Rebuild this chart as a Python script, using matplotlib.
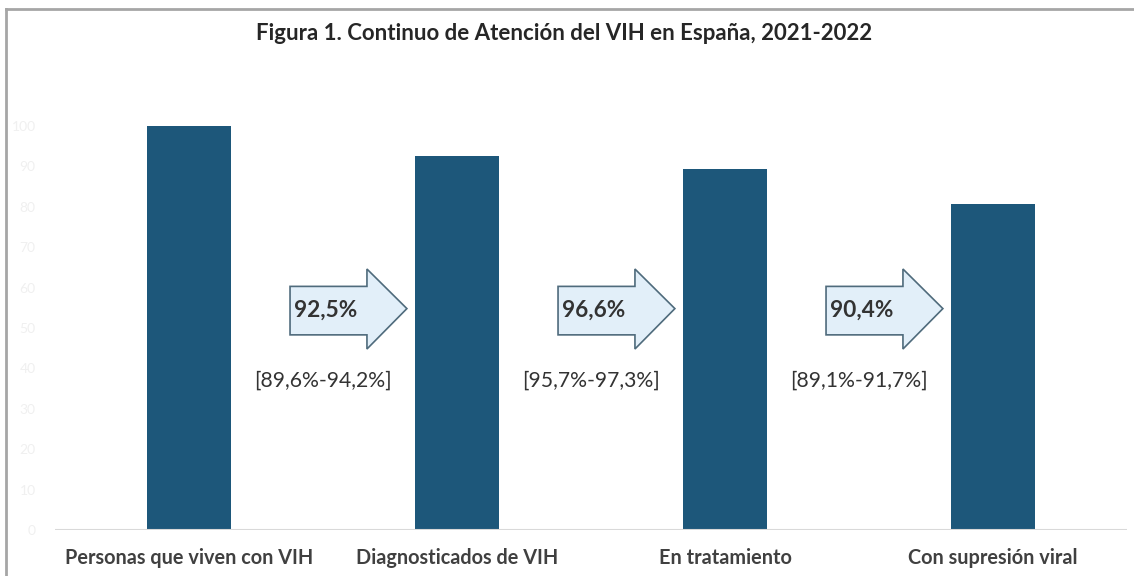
import matplotlib.pyplot as plt
import matplotlib.patches as mpatches
from matplotlib.lines import Line2D
import numpy as np

plt.rcParams['font.family'] = ['Lato', 'DejaVu Sans']

# data
categories = ['Personas que viven con VIH', 'Diagnosticados de VIH',
              'En tratamiento', 'Con supresión viral']
values = [100, 92.5, 89.4, 80.8]
step_pct = ['92,5%', '96,6%', '90,4%']
step_ci = ['[89,6%-94,2%]', '[95,7%-97,3%]', '[89,1%-91,7%]']
yticks = [0, 10, 20, 30, 40, 50, 60, 70, 80, 90, 100]

bar_color = '#1D577A'
text_color = '#404040'

fig = plt.figure(figsize=(11.34, 5.76), dpi=100)
ax = fig.add_axes([55 / 1134, 46 / 576, 1072 / 1134, 404 / 576])

x = np.arange(len(categories))
ax.bar(x, values, width=0.31, color=bar_color, clip_on=False, zorder=3)

ax.set_xlim(-0.5, 3.5)
ax.set_ylim(0, 100)
ax.axhline(0, color='#D9D9D9', lw=1.5, zorder=4)

for s in ax.spines.values():
    s.set_visible(False)

ax.set_xticks(x)
ax.set_xticklabels(categories, fontsize=14.3, fontweight='bold', color=text_color)
ax.tick_params(axis='x', length=0, pad=13)
ax.set_yticks(yticks)
ax.set_yticklabels([str(t) for t in yticks], fontsize=10, color='#F0F0F0')
ax.tick_params(axis='y', length=0, pad=14)

# arrows between bars
body_w, head_l = 0.287, 0.149
body_lo, body_hi = 48.3, 60.3
head_lo, head_hi, tip_y = 44.8, 64.6, 54.8
for i, (pct, ci) in enumerate(zip(step_pct, step_ci)):
    x0 = i + 0.377
    xs = x0 + body_w
    poly = [(x0, body_lo), (xs, body_lo), (xs, head_lo), (xs + head_l, tip_y),
            (xs, head_hi), (xs, body_hi), (x0, body_hi)]
    ax.add_patch(mpatches.Polygon(poly, closed=True, facecolor='#E2EFF9',
                                  edgecolor='#4F6B7C', lw=1.2, zorder=5))
    ax.text(x0 + body_w / 2 - 0.01, (body_lo + body_hi) / 2, pct, ha='center',
            va='center', fontsize=16.3, fontweight='bold', color='#333333', zorder=6)
    ax.text(i + 0.5, 36.9, ci, ha='center', va='center', fontsize=15.2,
            color='#333333')

fig.text(0.497, 1 - 33 / 576, 'Figura 1. Continuo de Atención del VIH en España, 2021-2022',
         ha='center', va='center', fontsize=16, fontweight='bold', color='#262626')

# outer frame (only top and left edges fall inside the image)
fig.lines.append(Line2D([6 / 1134, 6 / 1134], [0, 1 - 9 / 576], transform=fig.transFigure,
                        color='#A6A6A6', lw=2))
fig.lines.append(Line2D([6 / 1134, 1], [1 - 9 / 576, 1 - 9 / 576], transform=fig.transFigure,
                        color='#A6A6A6', lw=2))

fig.savefig('out.png', dpi=100)
